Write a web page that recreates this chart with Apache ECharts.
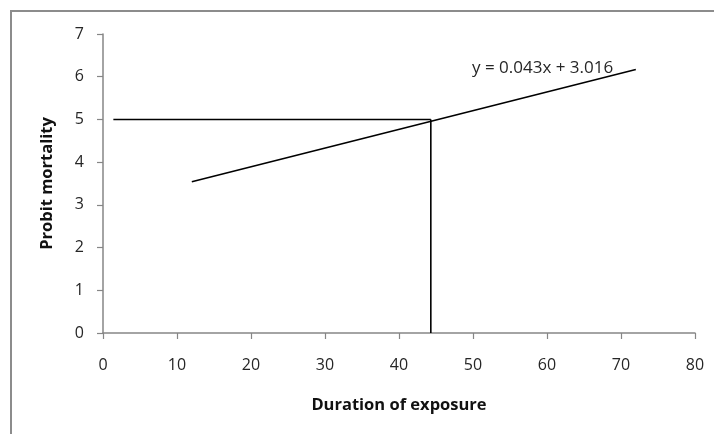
<!DOCTYPE html>
<html>
<head>
<meta charset="utf-8">
<script src="https://cdn.jsdelivr.net/npm/echarts@6/dist/echarts.min.js"></script>
<style>
  html, body { margin: 0; padding: 0; background: #fff; }
  #chart { width: 714px; height: 434px; }
</style>
</head>
<body>
<div id="chart"></div>
<script>
// Probit regression line and the LT50 read-off (probit 5)
const trendLine = [[12, 3.54], [72, 6.17]];
const probitFiveLine = [[1.4, 5], [44.3, 5]];
const lt50Line = [[44.3, 0], [44.3, 5]];
const equationText = 'y = 0.043x + 3.016';
const xTitle = 'Duration of exposure';
const yTitle = 'Probit mortality';

const FONT = 'Open Sans';
const axisGray = '#868686';
const labelColor = '#262626';
const titleColor = '#111';

const chart = echarts.init(document.getElementById('chart'), null, { renderer: 'canvas' });

function lineSeries(data) {
  return {
    type: 'line',
    data: data,
    symbol: 'none',
    silent: true,
    lineStyle: { color: '#000', width: 1.6 },
    animation: false
  };
}

chart.setOption({
  backgroundColor: '#fff',
  animation: false,
  grid: { left: 103, right: 19, top: 34, bottom: 101 },
  xAxis: {
    type: 'value', min: 0, max: 80, interval: 10,
    name: xTitle, nameLocation: 'middle', nameGap: 64,
    nameTextStyle: { fontFamily: FONT, fontWeight: 'bold', fontSize: 16.5, color: titleColor },
    axisLine: { lineStyle: { color: axisGray, width: 1.5 } },
    axisTick: { show: true, inside: false, length: 6, lineStyle: { color: axisGray, width: 1.2 } },
    axisLabel: { margin: 24, fontFamily: FONT, fontSize: 16, color: labelColor },
    splitLine: { show: false }
  },
  yAxis: {
    type: 'value', min: 0, max: 7, interval: 1,
    name: yTitle, nameLocation: 'middle', nameGap: 47, nameRotate: 90,
    nameTextStyle: { fontFamily: FONT, fontWeight: 'bold', fontSize: 16.5, color: titleColor },
    axisLine: { show: true, lineStyle: { color: axisGray, width: 1.5 } },
    axisTick: { show: true, inside: false, length: 6, lineStyle: { color: axisGray, width: 1.2 } },
    axisLabel: { margin: 19, fontFamily: FONT, fontSize: 16, color: labelColor },
    splitLine: { show: false }
  },
  series: [
    lineSeries(trendLine),
    lineSeries(probitFiveLine),
    lineSeries(lt50Line)
  ],
  graphic: [
    {
      type: 'rect', silent: true, z: -1,
      shape: { x: 11, y: 11, width: 800, height: 600 },
      style: { fill: 'none', stroke: '#8c8c8c', lineWidth: 2 }
    },
    {
      type: 'text', left: 472, top: 60, silent: true,
      style: { text: equationText, fontFamily: FONT, fontSize: 17, fill: labelColor }
    }
  ]
});
</script>
</body>
</html>
